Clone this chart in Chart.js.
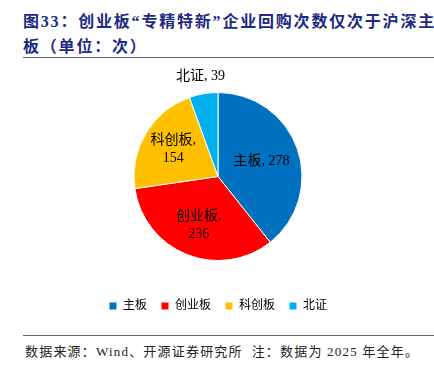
<!DOCTYPE html>
<html>
<head>
<meta charset="utf-8">
<script src="https://cdn.jsdelivr.net/npm/chart.js@4"></script>
<style>
  html, body { margin: 0; padding: 0; background: #fff; }
  body { width: 434px; height: 377px; position: relative; overflow: hidden; }
  .title {
    position: absolute; left: 23px; top: 9px; width: 411px;
    font-family: "Liberation Serif", "Noto Sans CJK SC", serif;
    font-weight: bold; font-size: 16px; line-height: 25px;
    letter-spacing: 1.8px; color: #202a84; white-space: nowrap;
  }
  .rule { position: absolute; left: 23px; right: 0; height: 1px; background: #666; }
  .note {
    position: absolute; left: 25px; top: 341px;
    font-family: "Liberation Serif", "Noto Sans CJK SC", serif;
    font-size: 13px; letter-spacing: 1.2px; color: #222; white-space: nowrap;
  }
  .wrap { position: absolute; left: 0; top: 60px; width: 434px; height: 262px; }
</style>
</head>
<body>
<div class="title">图33：创业板“专精特新”企业回购次数仅次于沪深主<br>板（单位：次）</div>
<div class="rule" style="top:57px"></div>
<div class="wrap"><canvas id="pieChart"></canvas></div>
<div class="rule" style="top:335px"></div>
<div class="note">数据来源：Wind、开源证券研究所&nbsp;&nbsp;注：数据为 2025 年全年。</div>

<script>
const categories = ["主板", "创业板", "科创板", "北证"];
const buybackCounts = [278, 236, 154, 39];
const sliceColors = ["#0070C0", "#FF0000", "#FFC000", "#00B0F0"];

const labelFont = "14px 'Liberation Serif', 'Noto Sans CJK SC', serif";

// draws "name, value" labels, small slices go outside
const sliceLabels = {
  id: "sliceLabels",
  afterDatasetsDraw(chart) {
    const ctx = chart.ctx;
    const meta = chart.getDatasetMeta(0);
    const total = buybackCounts.reduce((a, b) => a + b, 0);
    ctx.save();
    ctx.font = labelFont;
    ctx.fillStyle = "#000";
    ctx.textAlign = "center";
    ctx.textBaseline = "middle";
    meta.data.forEach((arc, i) => {
      const p = arc.getProps(["x", "y", "startAngle", "endAngle", "outerRadius"], true);
      const mid = (p.startAngle + p.endAngle) / 2;
      const share = buybackCounts[i] / total;
      const name = categories[i];
      const val = String(buybackCounts[i]);
      if (share < 0.1) {
        const r = p.outerRadius + 18;
        ctx.fillText(name + ", " + val, p.x + Math.cos(mid) * r, p.y + Math.sin(mid) * r);
      } else if (name.length > 2) {
        const r = p.outerRadius * 0.62;
        const cx = p.x + Math.cos(mid) * r, cy = p.y + Math.sin(mid) * r;
        ctx.fillText(name + ",", cx, cy - 9);
        ctx.fillText(val, cx, cy + 9);
      } else {
        const r = p.outerRadius * 0.55;
        ctx.fillText(name + ", " + val, p.x + Math.cos(mid) * r, p.y + Math.sin(mid) * r);
      }
    });
    ctx.restore();
  },
};

new Chart(document.getElementById("pieChart"), {
  type: "pie",
  data: {
    labels: categories,
    datasets: [
      {
        data: buybackCounts,
        backgroundColor: sliceColors,
        borderColor: "#ffffff",
        borderWidth: 1,
      },
    ],
  },
  options: {
    responsive: true,
    maintainAspectRatio: false,
    animation: false,
    radius: 84,
    layout: { padding: { top: 7, left: 2 } },
    plugins: {
      legend: {
        position: "bottom",
        labels: {
          boxWidth: 8,
          boxHeight: 8,
          padding: 14,
          color: "#000",
          font: { family: "'Liberation Serif', 'Noto Sans CJK SC', serif", size: 12 },
        },
      },
      tooltip: { enabled: false },
    },
  },
  plugins: [sliceLabels],
});
</script>
</body>
</html>
